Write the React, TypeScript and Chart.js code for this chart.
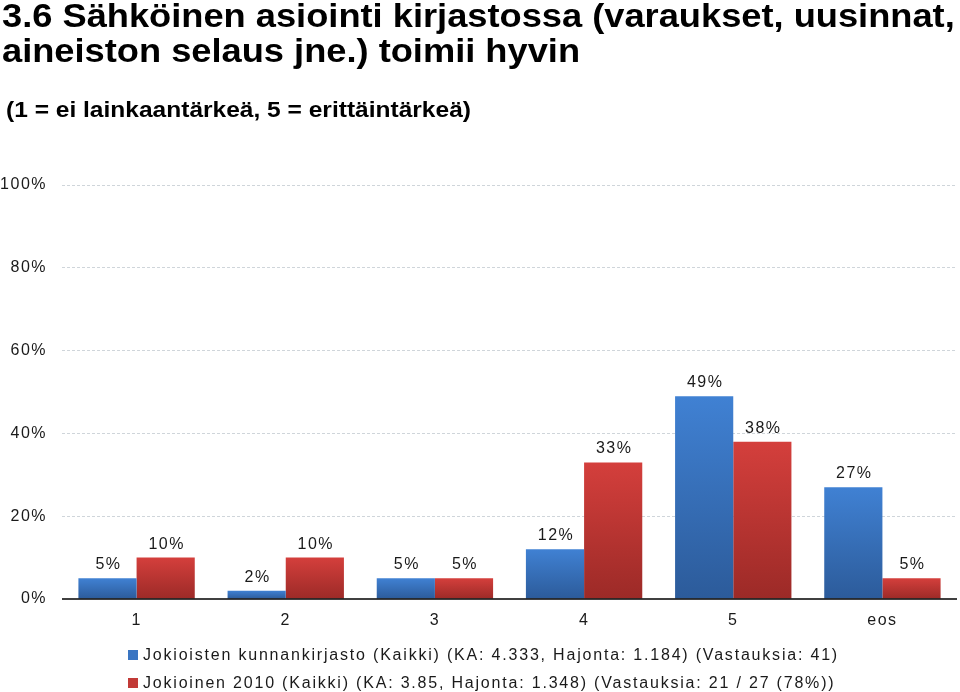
import React, { useEffect, useRef } from "react";
import { Chart, registerables } from "chart.js";

Chart.register(...registerables);

const categories = ["1", "2", "3", "4", "5", "eos"];
const seriesA = [5, 2, 5, 12, 49, 27];
const seriesB = [10, 10, 5, 33, 38, 5];
const seriesALabel = "Jokioisten kunnankirjasto (Kaikki) (KA: 4.333, Hajonta: 1.184) (Vastauksia: 41)";
const seriesBLabel = "Jokioinen 2010 (Kaikki) (KA: 3.85, Hajonta: 1.348) (Vastauksia: 21 / 27 (78%))";
const titleLines = ["3.6 Sähköinen asiointi kirjastossa (varaukset, uusinnat,", "aineiston selaus jne.) toimii hyvin"];
const subtitle = "(1 = ei lainkaantärkeä, 5 = erittäintärkeä)";
const yTicks = [0, 20, 40, 60, 80, 100];

const BLUE_TOP = "#4081d3";
const BLUE_BOT = "#2c5b9a";
const RED_TOP = "#d43f3c";
const RED_BOT = "#9c2a27";

const FONT = "'Liberation Sans', Arial, Helvetica, sans-serif";

function gradientFor(top: string, bot: string) {
  return (ctx: any) => {
    const chart = ctx.chart;
    const y = chart.scales?.y;
    if (!chart.chartArea || !y || ctx.type !== "data") return top;
    const v = ctx.raw as number;
    const yTop = y.getPixelForValue(v);
    const yBot = y.getPixelForValue(0);
    if (!isFinite(yTop) || yBot - yTop < 1) return top;
    const g = chart.ctx.createLinearGradient(0, yTop, 0, yBot);
    g.addColorStop(0, top);
    g.addColorStop(1, bot);
    return g;
  };
}

const spacingPlugin = {
  id: "spacing",
  beforeDraw(chart: any) {
    (chart.ctx as any).letterSpacing = "1.5px";
  },
};

const valueLabels = {
  id: "valueLabels",
  afterDatasetsDraw(chart: any) {
    const ctx = chart.ctx;
    ctx.save();
    (ctx as any).letterSpacing = "1.5px";
    ctx.font = `16px ${FONT}`;
    ctx.fillStyle = "#1a1a1a";
    ctx.textAlign = "center";
    ctx.textBaseline = "alphabetic";
    chart.data.datasets.forEach((ds: any, di: number) => {
      const meta = chart.getDatasetMeta(di);
      meta.data.forEach((bar: any, i: number) => {
        const v = ds.data[i];
        ctx.fillText(v + "%", bar.x + 1, bar.y - 9);
      });
    });
    ctx.restore();
  },
};

const zeroLine = {
  id: "zeroLine",
  afterDatasetsDraw(chart: any) {
    const ctx = chart.ctx;
    const y = chart.scales.y.getPixelForValue(0);
    ctx.save();
    ctx.strokeStyle = "#000";
    ctx.lineWidth = 1.5;
    ctx.beginPath();
    ctx.moveTo(chart.chartArea.left, y);
    ctx.lineTo(chart.chartArea.right, y);
    ctx.stroke();
    ctx.restore();
  },
};

export default function App() {
  const ref = useRef<HTMLCanvasElement | null>(null);
  useEffect(() => {
    if (!ref.current) return;
    const chart = new Chart(ref.current, {
      type: "bar",
      data: {
        labels: categories,
        datasets: [
          {
            label: seriesALabel,
            data: seriesA,
            backgroundColor: gradientFor(BLUE_TOP, BLUE_BOT),
            borderWidth: 0,
            categoryPercentage: 0.78,
            barPercentage: 1,
          },
          {
            label: seriesBLabel,
            data: seriesB,
            backgroundColor: gradientFor(RED_TOP, RED_BOT),
            borderWidth: 0,
            categoryPercentage: 0.78,
            barPercentage: 1,
          },
        ],
      },
      options: {
        animation: false,
        responsive: false,
        maintainAspectRatio: false,
        layout: { padding: { top: 185, right: 3, bottom: 0, left: 0 } },
        plugins: {
          legend: { display: false },
          title: { display: false },
          tooltip: { enabled: false },
        },
        scales: {
          x: {
            grid: { display: false, drawTicks: false },
            border: { display: false },
            ticks: {
              color: "#1a1a1a",
              font: { size: 16, family: FONT },
              padding: 12,
            },
            afterFit(scale: any) {
              scale.height = 93;
            },
          },
          y: {
            min: 0,
            max: 100,
            afterBuildTicks(scale: any) {
              scale.ticks = yTicks.map((v) => ({ value: v }));
            },
            grid: {
              color: (c: any) => (c.tick && c.tick.value === 0 ? "rgba(0,0,0,0)" : "#cfd5da"),
              lineWidth: 1,
              drawTicks: false,
            },
            border: { display: false, dash: [3, 2] },
            ticks: {
              color: "#1a1a1a",
              font: { size: 16, family: FONT },
              padding: 15,
              callback: (v: any) => v + "%",
            },
            afterFit(scale: any) {
              scale.width = 62;
            },
          },
        },
      },
      plugins: [spacingPlugin, valueLabels, zeroLine],
    } as any);
    return () => chart.destroy();
  }, []);

  const legendItem = (color: string, text: string, top: number) => (
    <div
      style={{
        position: "absolute",
        left: 128,
        top,
        display: "flex",
        alignItems: "center",
        fontFamily: FONT,
        fontSize: 16,
        letterSpacing: "1.8px",
        color: "#1a1a1a",
        whiteSpace: "nowrap",
      }}
    >
      <span style={{ display: "inline-block", width: 10, height: 10, background: color, marginRight: 5 }} />
      <span>{text}</span>
    </div>
  );

  return (
    <div style={{ position: "absolute", left: 0, top: 0, width: 960, height: 692, background: "#fff", overflow: "hidden" }}>
      <canvas ref={ref} width={960} height={692} style={{ position: "absolute", left: 0, top: 0, width: 960, height: 692 }} />
      <div
        style={{
          position: "absolute",
          left: 2,
          top: -2,
          fontFamily: FONT,
          fontWeight: "bold",
          fontSize: 34,
          lineHeight: "35px",
          color: "#000",
          whiteSpace: "nowrap",
          transform: "scaleX(1.066)",
          transformOrigin: "left top",
        }}
      >
        {titleLines.map((l, i) => (
          <div key={i}>{l}</div>
        ))}
      </div>
      <div
        style={{
          position: "absolute",
          left: 6,
          top: 97,
          fontFamily: FONT,
          fontWeight: "bold",
          fontSize: 22,
          color: "#000",
          whiteSpace: "nowrap",
          transform: "scaleX(1.115)",
          transformOrigin: "left top",
        }}
      >
        {subtitle}
      </div>
      {legendItem("#3a75c2", seriesALabel, 646)}
      {legendItem("#c23a37", seriesBLabel, 674)}
    </div>
  );
}
